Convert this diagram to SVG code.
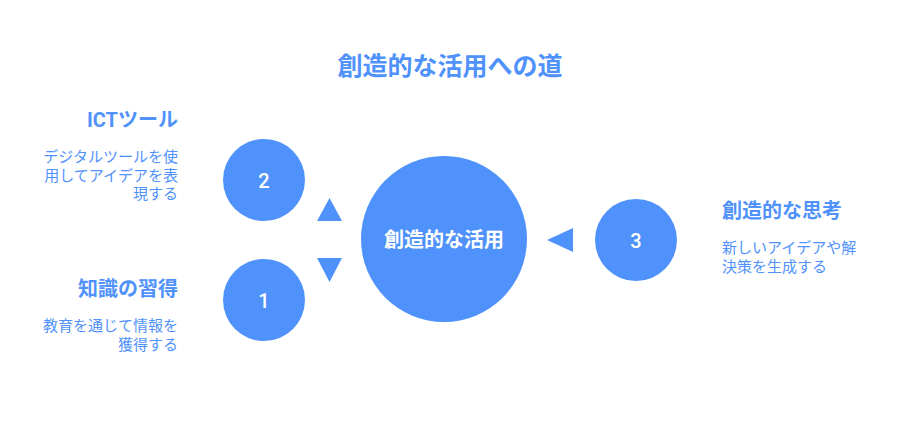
<svg xmlns="http://www.w3.org/2000/svg" width="900" height="432" viewBox="0 0 900 432">
<style>
.c{fill:#5092fc}
.t{font-family:Roboto,"Noto Sans CJK JP",sans-serif;fill:#5092fc}
.h{font-size:20px;font-weight:bold}
.d{font-size:15px}
.n{font-family:Roboto,"Noto Sans CJK JP",sans-serif;fill:#fff;font-size:20px;font-weight:500;text-anchor:middle;dominant-baseline:central}
.m{font-size:20px;font-weight:bold}
</style>
<rect width="900" height="432" fill="#fff"/>
<text class="t" x="450" y="75" text-anchor="middle" font-size="25" font-weight="bold">創造的な活用への道</text>
<g id="connectors">
<polygon class="c" points="317,221 342,221 329.5,198"/>
<polygon class="c" points="317,258 342,258 329.5,282"/>
<polygon class="c" points="573,228 573,252 547,240"/>
</g>
<g id="center">
<circle class="c" cx="444" cy="239" r="83"/>
<text class="n m" x="444" y="240">創造的な活用</text>
</g>
<g id="node2">
<circle class="c" cx="264" cy="180" r="41"/>
<text class="n" x="264" y="181">2</text>
<text class="t h" x="178" y="127" text-anchor="end">ICTツール</text>
<text class="t d" x="178" y="162" text-anchor="end">デジタルツールを使</text>
<text class="t d" x="178" y="181" text-anchor="end">用してアイデアを表</text>
<text class="t d" x="178" y="199" text-anchor="end">現する</text>
</g>
<g id="node1">
<circle class="c" cx="264" cy="300" r="41"/>
<text class="n" x="264" y="301">1</text>
<text class="t h" x="178" y="296" text-anchor="end">知識の習得</text>
<text class="t d" x="178" y="331" text-anchor="end">教育を通じて情報を</text>
<text class="t d" x="178" y="350" text-anchor="end">獲得する</text>
</g>
<g id="node3">
<circle class="c" cx="636" cy="240" r="41"/>
<text class="n" x="636" y="241">3</text>
<text class="t h" x="722" y="218">創造的な思考</text>
<text class="t d" x="722" y="253">新しいアイデアや解</text>
<text class="t d" x="722" y="272">決策を生成する</text>
</g>
</svg>
